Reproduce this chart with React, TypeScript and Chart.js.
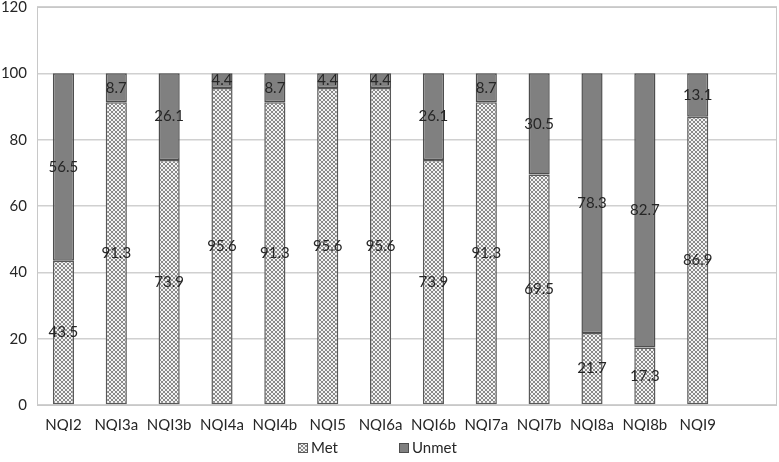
import React, { useEffect, useRef } from "react";
import { Chart, registerables } from "chart.js";

Chart.register(...registerables);

const categories = ["NQI2", "NQI3a", "NQI3b", "NQI4a", "NQI4b", "NQI5", "NQI6a", "NQI6b", "NQI7a", "NQI7b", "NQI8a", "NQI8b", "NQI9", ""];
const metValues = [43.5, 91.3, 73.9, 95.6, 91.3, 95.6, 95.6, 73.9, 91.3, 69.5, 21.7, 17.3, 86.9, null];
const unmetValues = [56.5, 8.7, 26.1, 4.4, 8.7, 4.4, 4.4, 26.1, 8.7, 30.5, 78.3, 82.7, 13.1, null];
const yTicks = [0, 20, 40, 60, 80, 100, 120];
const legendLabels = ["Met", "Unmet"];

const FONT = "Lato, 'Open Sans', sans-serif";
const TEXT = "#262626";

function makePattern(): CanvasPattern | string {
  const c = document.createElement("canvas");
  c.width = 4;
  c.height = 4;
  const ctx = c.getContext("2d");
  if (!ctx) return "#ccc";
  ctx.fillStyle = "#f4f4f4";
  ctx.fillRect(0, 0, 4, 4);
  ctx.fillStyle = "#8a8a8a";
  const px = [[0, 0], [1, 1], [2, 2], [3, 3], [3, 0], [2, 1], [1, 2], [0, 3]];
  px.forEach(([x, y]) => ctx.fillRect(x, y, 1, 1));
  const p = ctx.createPattern(c, "repeat");
  return p || "#ccc";
}

const labelPlugin = {
  id: "segLabels",
  afterDatasetsDraw(chart: any) {
    const ctx = chart.ctx;
    ctx.save();
    ctx.font = `15px ${FONT}`;
    ctx.fillStyle = TEXT;
    ctx.textAlign = "center";
    ctx.textBaseline = "middle";
    chart.data.datasets.forEach((ds: any, di: number) => {
      const meta = chart.getDatasetMeta(di);
      meta.data.forEach((el: any, i: number) => {
        const v = ds.data[i];
        if (v == null) return;
        const { x, y, base } = el.getProps(["x", "y", "base"], true);
        ctx.fillText(String(v), x, (y + base) / 2);
      });
    });
    ctx.restore();
  },
};

const borderPlugin = {
  id: "areaBorder",
  beforeDatasetsDraw(chart: any) {
    const { ctx, chartArea } = chart;
    ctx.save();
    ctx.strokeStyle = "#c8c8c8";
    ctx.lineWidth = 1;
    ctx.strokeRect(chartArea.left + 0.5, chartArea.top + 0.5, chartArea.right - chartArea.left - 1, chartArea.bottom - chartArea.top);
    ctx.restore();
  },
};

const legendPlugin = {
  id: "customLegend",
  afterDraw(chart: any) {
    const { ctx } = chart;
    const ds = chart.data.datasets;
    const starts = [298, 399];
    const cy = 448;
    ctx.save();
    ctx.font = `15px ${FONT}`;
    ctx.textBaseline = "middle";
    ctx.textAlign = "left";
    legendLabels.forEach((lbl, i) => {
      const x = starts[i];
      ctx.fillStyle = ds[i].backgroundColor;
      ctx.fillRect(x, cy - 5, 10, 10);
      ctx.strokeStyle = ds[i].borderColor;
      ctx.lineWidth = 1;
      ctx.strokeRect(x + 0.5, cy - 4.5, 9, 9);
      ctx.fillStyle = TEXT;
      ctx.fillText(lbl, x + 13, cy);
    });
    ctx.restore();
  },
};

export default function App() {
  const ref = useRef<HTMLCanvasElement | null>(null);
  useEffect(() => {
    if (!ref.current) return;
    const pattern = makePattern();
    const chart = new Chart(ref.current, {
      type: "bar",
      data: {
        labels: categories,
        datasets: [
          {
            label: legendLabels[0],
            data: metValues as any,
            backgroundColor: pattern as any,
            borderColor: "#595959",
            borderWidth: 1.5,
            borderSkipped: false,
            barPercentage: 0.4,
            categoryPercentage: 1,
          },
          {
            label: legendLabels[1],
            data: unmetValues as any,
            backgroundColor: "#808080",
            borderColor: "#4d4d4d",
            borderWidth: 1.5,
            borderSkipped: false,
            barPercentage: 0.4,
            categoryPercentage: 1,
          },
        ],
      },
      options: {
        animation: false,
        responsive: true,
        maintainAspectRatio: false,
        layout: { padding: { top: 7, right: 2, left: 0, bottom: 31 } },
        scales: {
          x: {
            stacked: true,
            grid: { display: false, drawTicks: false },
            border: { display: false },
            ticks: { color: TEXT, font: { family: FONT, size: 15 }, padding: 11, maxRotation: 0, autoSkip: false },
            afterFit: (s: any) => {
              s.height = 26;
              s.paddingLeft = 0;
              s.paddingRight = 0;
            },
          },
          y: {
            stacked: true,
            min: 0,
            max: 120,
            afterBuildTicks: (axis: any) => {
              axis.ticks = yTicks.map((v) => ({ value: v }));
            },
            grid: { color: "#d0d0d0", lineWidth: 1.5, drawTicks: false },
            border: { display: false },
            ticks: { color: TEXT, font: { family: FONT, size: 15 }, padding: 10 },
            afterFit: (s: any) => {
              s.width = 37;
              s.paddingTop = 0;
              s.paddingBottom = 0;
            },
          },
        },
        plugins: {
          legend: { display: false },
          tooltip: { enabled: false },
        },
      },
      plugins: [labelPlugin, borderPlugin, legendPlugin],
    });
    return () => chart.destroy();
  }, []);
  return (
    <div style={{ position: "absolute", left: 0, top: 0, width: 779, height: 462 }}>
      <canvas ref={ref} />
    </div>
  );
}
